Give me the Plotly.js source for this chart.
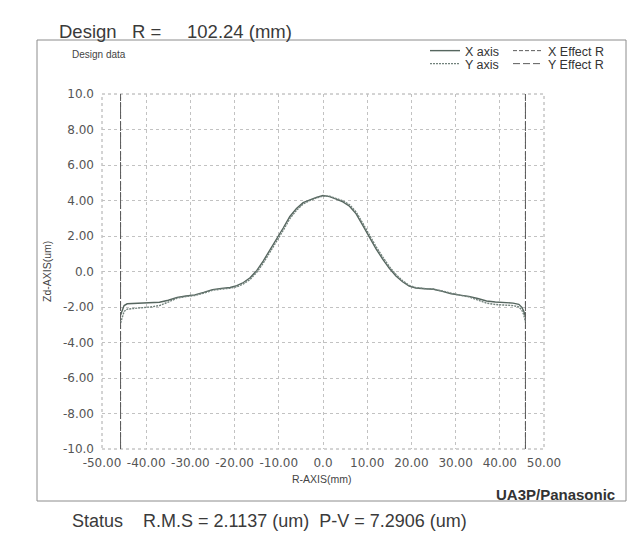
<!DOCTYPE html>
<html>
<head>
<meta charset="utf-8">
<script src="https://cdn.plot.ly/plotly-3.0.1.min.js"></script>
<style>html,body{margin:0;padding:0;background:#fff;}#chart{width:638px;height:536px;}</style>
</head>
<body>
<div id="chart"></div>
<script>
// R position (mm)
const rPos = [-45.8, -45.4, -45.0, -44.3, -43, -41, -39, -37, -35, -33, -31, -29, -27, -25, -23, -21, -19.5, -18, -16.5, -15, -13.5, -12, -10.5, -9, -7.5, -6, -4.5, -3, -1.5, 0, 1.5, 3, 4.5, 6, 7.5, 9, 10.5, 12, 13.5, 15, 16.5, 18, 19.5, 21, 23, 25, 27, 29, 31, 33, 35, 37, 39, 41, 43, 44.3, 45.0, 45.4, 45.8];
// Zd (um) along X axis
const xAxisZd = [-2.45, -2.12, -1.92, -1.82, -1.80, -1.79, -1.77, -1.73, -1.62, -1.46, -1.38, -1.32, -1.18, -1.02, -0.95, -0.90, -0.80, -0.62, -0.35, 0.05, 0.60, 1.20, 1.80, 2.45, 3.10, 3.55, 3.88, 4.05, 4.18, 4.28, 4.22, 4.08, 3.92, 3.68, 3.25, 2.60, 1.90, 1.28, 0.70, 0.18, -0.25, -0.58, -0.82, -0.93, -0.97, -1.00, -1.12, -1.25, -1.33, -1.40, -1.52, -1.66, -1.72, -1.75, -1.78, -1.85, -2.02, -2.22, -2.52];
// Zd (um) along Y axis
const yAxisZd = [-2.90, -2.50, -2.25, -2.12, -2.08, -2.04, -2.00, -1.92, -1.72, -1.50, -1.41, -1.35, -1.22, -1.06, -0.99, -0.94, -0.86, -0.70, -0.45, -0.05, 0.48, 1.08, 1.68, 2.32, 2.98, 3.45, 3.80, 4.00, 4.14, 4.25, 4.24, 4.13, 3.98, 3.76, 3.35, 2.72, 2.02, 1.40, 0.82, 0.28, -0.17, -0.52, -0.78, -0.91, -0.96, -0.99, -1.10, -1.24, -1.34, -1.43, -1.60, -1.78, -1.86, -1.89, -1.92, -1.99, -2.18, -2.42, -2.85];
// Effect R boundaries (mm)
const xEffectR = [-45.8, 45.8];
const yEffectR = [-45.8, 45.8];
// Axis ticks
const xTickVals = [-50, -40, -30, -20, -10, 0, 10, 20, 30, 40, 50];
const xTickText = ["-50.00", "-40.00", "-30.00", "-20.00", "-10.00", "0.0", "10.00", "20.00", "30.00", "40.00", "50.00"];
const yTickVals = [-10, -8, -6, -4, -2, 0, 2, 4, 6, 8, 10];
const yTickText = ["-10.0", "-8.00", "-6.00", "-4.00", "-2.00", "0.0", "2.00", "4.00", "6.00", "8.00", "10.0"];
const yRange = [-10, 10];

function vLines(xs) {
  const x = [], y = [];
  xs.forEach((v, i) => {
    if (i) { x.push(null); y.push(null); }
    x.push(v, v); y.push(yRange[0], yRange[1]);
  });
  return {x, y};
}
const xe = vLines(xEffectR), ye = vLines(yEffectR);

const traces = [
  {x: rPos, y: xAxisZd, name: 'X axis', mode: 'lines', legend: 'legend',
   line: {color: '#56665f', width: 1.4}},
  {x: xe.x, y: xe.y, name: 'X Effect R', mode: 'lines', legend: 'legend2',
   line: {color: '#5c5c5c', width: 1, dash: '4px,2px'}},
  {x: rPos, y: yAxisZd, name: 'Y axis', mode: 'lines', legend: 'legend3',
   line: {color: '#72827c', width: 1.4, dash: '2px,1px'}},
  {x: ye.x, y: ye.y, name: 'Y Effect R', mode: 'lines', legend: 'legend4',
   line: {color: '#5c5c5c', width: 1, dash: '7px,3px'}}
];

const L = 102, R = 94, T = 94, B = 87, W = 638, H = 536;
const pw = W - L - R, ph = H - T - B;
const px = v => (v - L) / pw;
const py = v => (H - B - v) / ph;

const tickFont = {family: 'DejaVu Sans, Verdana, sans-serif', size: 12, color: '#555'};
const arial = 'Liberation Sans, Arial, sans-serif';

const legendBase = {
  orientation: 'v', xanchor: 'left', yanchor: 'top', itemwidth: 30,
  bgcolor: 'rgba(0,0,0,0)', borderwidth: 0,
  font: {family: arial, size: 12.5, color: '#333'}
};
const leg = (xp, yp) => Object.assign({}, legendBase, {x: px(xp), y: py(yp)});

const layout = {
  width: W, height: H,
  margin: {l: L, r: R, t: T, b: B, autoexpand: false},
  paper_bgcolor: '#fff', plot_bgcolor: '#fff',
  showlegend: true,
  legend: leg(425, 36),
  legend2: leg(508, 36),
  legend3: leg(425, 49),
  legend4: leg(508, 49),
  xaxis: {range: [-50, 50], tickmode: 'array', tickvals: xTickVals, ticktext: xTickText,
          showgrid: true, gridcolor: '#c2c2c2', griddash: 'dot', gridwidth: 1,
          zeroline: false, showline: false, ticks: '', tickfont: tickFont, ticklabelstandoff: 5, fixedrange: true},
  yaxis: {range: yRange, tickmode: 'array', tickvals: yTickVals, ticktext: yTickText,
          showgrid: true, gridcolor: '#c2c2c2', griddash: 'dot', gridwidth: 1,
          zeroline: false, showline: false, ticks: '', tickfont: tickFont, ticklabelstandoff: 7, fixedrange: true},
  shapes: [
    {type: 'rect', xref: 'paper', yref: 'paper', x0: 0, x1: 1, y0: 0, y1: 1,
     line: {color: '#a8a8a8', width: 1, dash: 'dot'}, layer: 'below'},
    {type: 'rect', xref: 'paper', yref: 'paper', x0: px(37), x1: px(626), y0: py(501), y1: py(40),
     line: {color: '#8c8c8c', width: 1}, layer: 'below'}
  ],
  annotations: [
    {text: 'Design\u00a0\u00a0\u00a0R =\u00a0\u00a0\u00a0\u00a0\u00a0102.24 (mm)', xref: 'paper', yref: 'paper',
     x: px(57), y: py(31), xanchor: 'left', yanchor: 'middle', showarrow: false,
     font: {family: arial, size: 18.5, color: '#3a3a3a'}},
    {text: 'Design data', xref: 'paper', yref: 'paper', x: px(70), y: py(55),
     xanchor: 'left', yanchor: 'middle', showarrow: false,
     font: {family: arial, size: 10, color: '#444'}},
    {text: 'Zd-AXIS(um)', xref: 'paper', yref: 'paper', x: px(47), y: py(272),
     xanchor: 'center', yanchor: 'middle', textangle: -90, showarrow: false,
     font: {family: arial, size: 10.5, color: '#444'}},
    {text: 'R-AXIS(mm)', xref: 'paper', yref: 'paper', x: px(322), y: py(479),
     xanchor: 'center', yanchor: 'middle', showarrow: false,
     font: {family: arial, size: 10.5, color: '#444'}},
    {text: '<b>UA3P/Panasonic</b>', xref: 'paper', yref: 'paper', x: px(617), y: py(494),
     xanchor: 'right', yanchor: 'middle', showarrow: false,
     font: {family: arial, size: 15, color: '#333'}},
    {text: 'Status\u00a0\u00a0\u00a0\u00a0R.M.S = 2.1137 (um)\u00a0\u00a0P-V = 7.2906 (um)', xref: 'paper', yref: 'paper',
     x: px(70), y: py(521), xanchor: 'left', yanchor: 'middle', showarrow: false,
     font: {family: arial, size: 18, color: '#3a3a3a'}}
  ]
};

Plotly.newPlot('chart', traces, layout, {displayModeBar: false, staticPlot: true});
</script>
</body>
</html>
